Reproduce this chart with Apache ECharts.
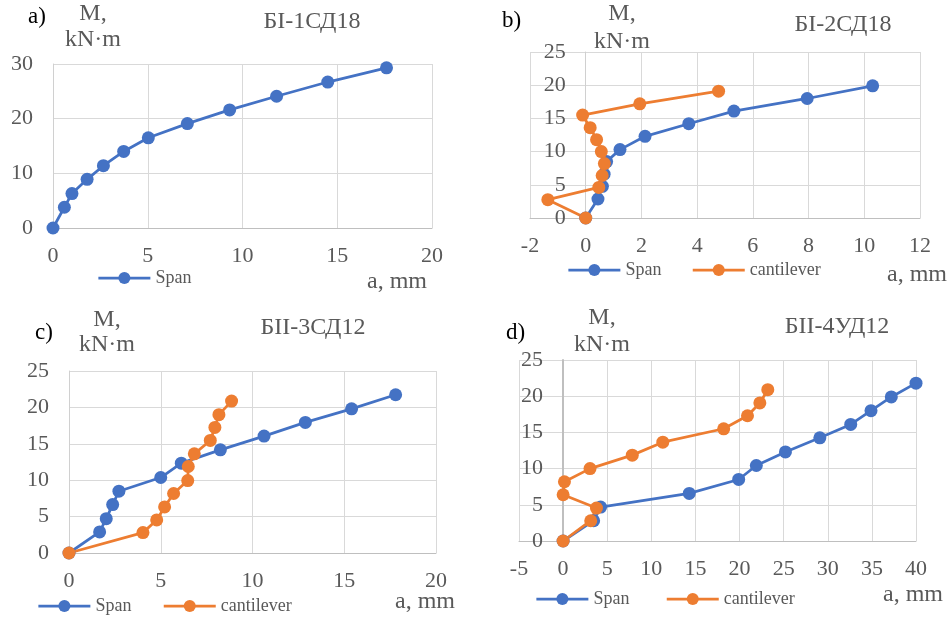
<!DOCTYPE html>
<html>
<head>
<meta charset="utf-8">
<script src="https://cdn.jsdelivr.net/npm/echarts@6/dist/echarts.min.js"></script>
<style>
html,body{margin:0;padding:0;background:#fff;}
#chart{width:951px;height:620px;}
</style>
</head>
<body>
<div id="chart"></div>
<script>
// Panel a) БI-1СД18
const aSpanX = [0, 0.6, 1.0, 1.8, 2.66, 3.73, 5.03, 7.09, 9.32, 11.8, 14.5, 17.6];
const aSpanY = [0, 3.8, 6.3, 8.9, 11.4, 14.0, 16.5, 19.1, 21.6, 24.1, 26.7, 29.3];
// Panel b) БI-2СД18
const bSpanX = [0, 0.44, 0.6, 0.66, 0.75, 1.23, 2.13, 3.7, 5.32, 7.95, 10.3];
const bSpanY = [0, 2.86, 4.77, 6.6, 8.5, 10.3, 12.3, 14.2, 16.1, 18.0, 19.9];
const bCantX = [0, -1.36, 0.47, 0.59, 0.67, 0.56, 0.39, 0.16, -0.11, 1.94, 4.77];
const bCantY = [0, 2.76, 4.6, 6.4, 8.2, 10.0, 11.8, 13.6, 15.5, 17.2, 19.1];
// Panel c) БII-3СД12
const cSpanX = [0, 1.67, 2.03, 2.38, 2.72, 5.0, 6.12, 8.25, 10.63, 12.88, 15.4, 17.8];
const cSpanY = [0, 2.89, 4.72, 6.65, 8.49, 10.37, 12.34, 14.17, 16.06, 17.94, 19.8, 21.74];
const cCantX = [0, 4.03, 4.78, 5.21, 5.7, 6.47, 6.5, 6.83, 7.7, 7.95, 8.17, 8.86];
const cCantY = [0, 2.8, 4.54, 6.33, 8.17, 9.95, 11.88, 13.62, 15.46, 17.25, 19.0, 20.87];
// Panel d) БII-4УД12
const dSpanX = [0, 3.46, 4.25, 14.3, 19.9, 21.9, 25.2, 29.1, 32.6, 34.9, 37.2, 40.0];
const dSpanY = [0, 2.8, 4.69, 6.57, 8.5, 10.43, 12.3, 14.25, 16.1, 18.0, 19.9, 21.8];
const dCantX = [0, 3.13, 3.78, 0.0, 0.15, 3.05, 7.84, 11.3, 18.2, 20.9, 22.3, 23.2];
const dCantY = [0, 2.8, 4.55, 6.39, 8.18, 10.0, 11.86, 13.65, 15.5, 17.3, 19.07, 20.9];

const panelLetters = ['a)', 'b)', 'c)', 'd)'];
const panelTitles = ['БI-1СД18', 'БI-2СД18', 'БII-3СД12', 'БII-4УД12'];
const yName1 = 'M,';
const yName2 = 'kN·m';
const xName = 'a, mm';
const spanName = 'Span';
const cantName = 'cantilever';

const pairs = (xs, ys) => xs.map((x, i) => [x, ys[i]]);

const FONT = '"Liberation Serif", "Times New Roman", serif';
const GRAY = '#595959';
const BLUE = '#4472C4';
const ORANGE = '#ED7D31';

const grids = [
  {left: 53, top: 64, width: 379, height: 164},
  {left: 530, top: 52, width: 390, height: 166},
  {left: 69, top: 371, width: 367, height: 182},
  {left: 519, top: 360, width: 397, height: 181}
];
const xRanges = [[0, 20, 5], [-2, 12, 2], [0, 20, 5], [-5, 40, 5]];
const yRanges = [[0, 30, 10], [0, 25, 5], [0, 25, 5], [0, 25, 5]];

const xAxes = xRanges.map((r, i) => ({
  type: 'value', gridIndex: i, min: r[0], max: r[1], interval: r[2],
  axisLine: {show: true, onZero: false, lineStyle: {color: '#bfbfbf', width: 1}},
  axisTick: {show: false},
  axisLabel: {margin: 17, color: GRAY, fontFamily: FONT, fontSize: 22},
  splitLine: {show: true, lineStyle: {color: '#d9d9d9', width: 1}}
}));
// y axis sits where x = 0 (as in the original spreadsheet charts)
const yAxes = yRanges.map((r, i) => {
  const xr = xRanges[i];
  const zeroOffset = -(0 - xr[0]) / (xr[1] - xr[0]) * grids[i].width;
  return {
    type: 'value', gridIndex: i, min: r[0], max: r[1], interval: r[2],
    offset: zeroOffset,
    axisLine: {show: true, onZero: false, lineStyle: {color: i === 3 ? '#bfbfbf' : '#d0d0d0', width: i === 3 ? 2 : 1}},
    axisTick: {show: false},
    axisLabel: {margin: 20, color: GRAY, fontFamily: FONT, fontSize: 22},
    splitLine: {show: true, lineStyle: {color: '#d9d9d9', width: 1}}
  };
});

function mkSeries(name, color, idx, data) {
  return {
    type: 'line', name: name, xAxisIndex: idx, yAxisIndex: idx,
    data: data, symbol: 'circle', symbolSize: 13, showSymbol: true,
    itemStyle: {color: color}, lineStyle: {color: color, width: 2.75},
    animation: false, clip: false
  };
}

const series = [
  mkSeries(spanName, BLUE, 0, pairs(aSpanX, aSpanY)),
  mkSeries(spanName, BLUE, 1, pairs(bSpanX, bSpanY)),
  mkSeries(cantName, ORANGE, 1, pairs(bCantX, bCantY)),
  mkSeries(spanName, BLUE, 2, pairs(cSpanX, cSpanY)),
  mkSeries(cantName, ORANGE, 2, pairs(cCantX, cCantY)),
  mkSeries(spanName, BLUE, 3, pairs(dSpanX, dSpanY)),
  mkSeries(cantName, ORANGE, 3, pairs(dCantX, dCantY))
];

function mkLegend(left, top, items, gap) {
  return {
    left: left, top: top, data: items, itemWidth: 52, itemHeight: 15, itemGap: gap,
    padding: 0, selectedMode: false,
    lineStyle: {width: 2.75},
    textStyle: {color: GRAY, fontFamily: FONT, fontSize: 18}
  };
}
const legends = [
  mkLegend(97, 269, [spanName], 30),
  mkLegend(567, 261, [spanName, cantName], 30),
  mkLegend(37, 597, [spanName, cantName], 31),
  mkLegend(535, 590, [spanName, cantName], 36)
];

function txt(text, x, y, align, color, size) {
  return {type: 'text', x: x, y: y, style: {text: text, fill: color || GRAY, font: (size || 24) + 'px ' + FONT, align: align || 'center', verticalAlign: 'middle'}};
}
const letterPos = [[28, 17], [502, 21], [35, 333], [506, 333]];
const mPos = [[93, 14, 40], [622, 14, 42], [107, 320, 345], [602, 318, 345]];
const titlePos = [[312, 22], [843, 25], [313, 328], [837, 327]];
const xNamePos = [[427, 282], [947, 275], [455, 602], [943, 595]];
const graphics = [];
for (let i = 0; i < 4; i++) {
  graphics.push(txt(panelLetters[i], letterPos[i][0], letterPos[i][1], 'left', '#000', 23));
  graphics.push(txt(yName1, mPos[i][0], mPos[i][1]));
  graphics.push(txt(yName2, mPos[i][0], mPos[i][2]));
  graphics.push(txt(panelTitles[i], titlePos[i][0], titlePos[i][1]));
  graphics.push(txt(xName, xNamePos[i][0], xNamePos[i][1], 'right'));
}

const chart = echarts.init(document.getElementById('chart'), null, {renderer: 'canvas'});
chart.setOption({
  backgroundColor: '#fff',
  animation: false,
  grid: grids,
  xAxis: xAxes,
  yAxis: yAxes,
  legend: legends,
  series: series,
  graphic: graphics
});
</script>
</body>
</html>
